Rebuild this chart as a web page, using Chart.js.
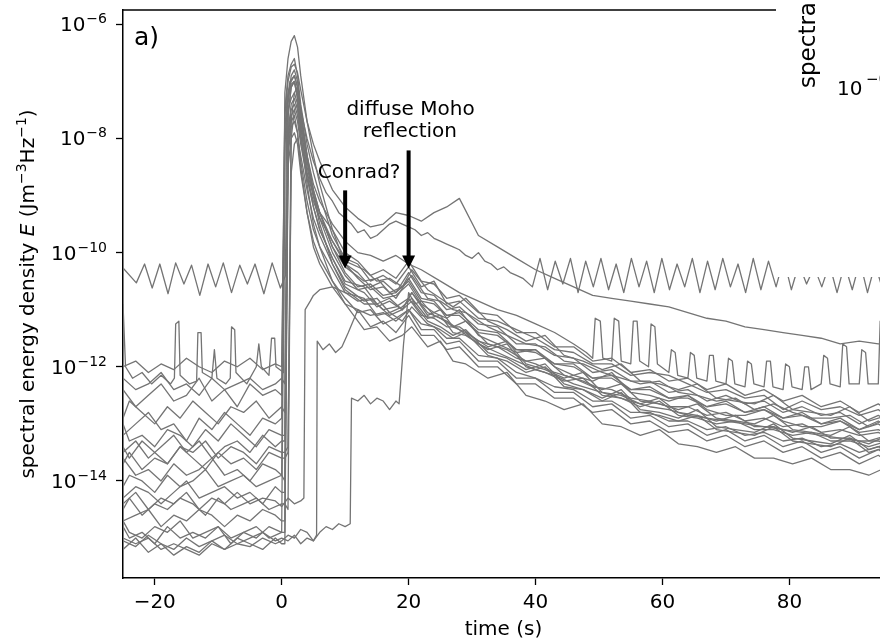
<!DOCTYPE html>
<html>
<head>
<meta charset="UTF-8">
<title>Spectral energy density vs time</title>
<script src="https://cdn.jsdelivr.net/npm/chart.js@4.4.1/dist/chart.umd.min.js"></script>
<style>
  html, body { margin: 0; padding: 0; overflow: hidden; background: #fff; }
  #chartBox { width: 884px; height: 644px; }
</style>
</head>
<body>
<div id="chartBox"><canvas id="energyChart" width="884" height="644"></canvas></div>
<script>
// ---- data: time in s, values are log10 of E (J m^-3 Hz^-1) ----
const timeTicks = [-20, 0, 20, 40, 60, 80];
const yTickExp = [-14, -12, -10, -8, -6];

// two time bases for the stations (samples were read at staggered times)
const time = [-25,-23,-21,-19,-17,-15,-13,-11,-9,-7,-5,-3,-1,0,
  0.5,1,1.5,2,2.5,3,4,5,6,8,10,
  12,14,16,18,20,22,24,26,28,
  31,34,37,40,43,46,49,52,55,58,61,64,67,70,73,76,79,82,85,88,91,94,96];
const timeB = [-25,-24,-22,-20,-18,-16,-14,-12,-10,-8,-6,-4,-2,0,
  0.5,1,1.5,2,2.5,3,4,5,6,8,10,
  13,15,17,19,20.5,23,25,27,29,
  32.5,35.5,38.5,41.5,44.5,47.5,50.5,53.5,56.5,59.5,62.5,65.5,68.5,71.5,74.5,77.5,80.5,83.5,86.5,89.5,92.5,95.5,97];

const logE01 = [-12.4,-12.7,-12.5,-12.3,-12.6,-12.5,-12.2,-12.6,-12.4,-12.7,-12.3,-12.5,-12.4,-12.5,
  -7.5,-6.9,-6.7,-6.6,-6.9,-7.4,-8.1,-8.6,-9.0,-9.7,-10.1,
  -10.2,-10.5,-10.4,-10.55,-10.25,-10.6,-10.5,-10.9,-10.85,-11.15,-11.2,-11.35,-11.5,-11.7,-11.75,-11.95,-11.95,-12.15,-12.1,-12.15,-12.3,-12.45,-12.4,-12.55,-12.5,-12.75,-12.6,-12.75,-12.7,-12.85,-12.75,-12.9];
const logE02 = [-12.9,-12.6,-12.8,-13.0,-12.7,-12.9,-12.6,-12.8,-13.0,-12.7,-12.8,-12.6,-12.9,-12.7,
  -12.8,-7.6,-7.1,-7.0,-7.2,-7.7,-8.4,-8.9,-9.3,-9.9,-10.25,
  -10.5,-10.45,-10.7,-10.6,-10.4,-10.8,-10.85,-11.0,-11.05,-11.3,-11.45,-11.6,-11.65,-11.9,-11.95,-12.1,-12.2,-12.3,-12.25,-12.45,-12.5,-12.6,-12.55,-12.75,-12.65,-12.8,-12.9,-12.9,-12.85,-13.05,-12.9,-13.05];
const logE03 = [-13.2,-13.0,-12.8,-13.1,-13.0,-13.3,-12.9,-13.1,-12.8,-13.0,-13.2,-12.9,-13.0,-12.9,
  -7.8,-7.2,-7.0,-6.9,-7.1,-7.6,-8.4,-9.0,-9.4,-10.0,-10.4,
  -10.65,-10.6,-10.8,-10.75,-10.55,-10.9,-11.05,-11.15,-11.0,-11.45,-11.6,-11.75,-11.7,-12.0,-12.15,-12.25,-12.1,-12.45,-12.5,-12.6,-12.5,-12.75,-12.85,-12.85,-12.75,-12.95,-13.05,-13.05,-12.95,-13.15,-13.1,-13.2];
const logE04 = [-13.0,-13.3,-13.2,-13.4,-13.1,-13.2,-13.4,-13.1,-13.3,-13.0,-13.2,-13.4,-13.1,-13.2,
  -13.2,-7.9,-7.4,-7.3,-7.5,-8.0,-8.7,-9.2,-9.6,-10.1,-10.5,
  -10.6,-10.9,-10.8,-11.0,-10.7,-11.05,-11.15,-11.3,-11.2,-11.6,-11.7,-11.9,-11.85,-12.15,-12.25,-12.4,-12.3,-12.6,-12.65,-12.75,-12.65,-12.9,-12.95,-13.0,-12.85,-13.1,-13.15,-13.2,-13.05,-13.3,-13.2,-13.3];
const logE05 = [-13.5,-13.3,-13.6,-13.4,-13.2,-13.5,-13.3,-13.6,-13.4,-13.3,-13.5,-13.2,-13.4,-13.3,
  -13.3,-8.1,-7.6,-7.5,-7.7,-8.1,-8.7,-9.1,-9.4,-9.8,-10.2,
  -10.35,-10.6,-10.5,-10.7,-10.35,-10.7,-10.75,-11.0,-10.95,-11.25,-11.3,-11.6,-11.6,-11.8,-11.85,-12.1,-12.05,-12.25,-12.25,-12.45,-12.4,-12.6,-12.5,-12.65,-12.6,-12.8,-12.7,-12.85,-12.8,-13.0,-12.85,-13.0];
const logE06 = [-13.7,-13.5,-13.8,-13.6,-13.7,-13.4,-13.6,-13.8,-13.5,-13.7,-13.6,-13.8,-13.5,-13.6,
  -13.6,-13.5,-7.7,-7.2,-7.1,-7.5,-8.3,-9.0,-9.5,-10.2,-10.6,
  -10.85,-10.8,-11.05,-10.95,-10.8,-11.15,-11.1,-11.4,-11.45,-11.7,-11.6,-12.0,-12.1,-12.25,-12.2,-12.5,-12.55,-12.7,-12.6,-12.85,-12.9,-13.0,-12.95,-13.1,-13.1,-13.2,-13.15,-13.3,-13.3,-13.4,-13.3,-13.4];
const logE07 = [-13.6,-13.9,-13.8,-14.0,-13.7,-13.9,-13.8,-13.6,-13.9,-13.8,-14.0,-13.7,-13.8,-13.9,
  -7.2,-6.6,-6.3,-6.2,-6.4,-6.9,-7.7,-8.3,-8.8,-9.6,-10.2,
  -10.45,-10.65,-10.6,-10.8,-10.45,-10.8,-10.85,-11.1,-11.05,-11.35,-11.4,-11.7,-11.7,-11.95,-11.95,-12.2,-12.15,-12.4,-12.35,-12.55,-12.5,-12.7,-12.6,-12.8,-12.7,-12.9,-12.8,-13.0,-12.9,-13.1,-12.95,-13.1];
const logE08 = [-14.1,-13.9,-14.0,-14.2,-13.9,-14.1,-14.0,-13.8,-14.1,-14.0,-13.9,-14.1,-14.0,-13.9,
  -14.0,-8.3,-7.8,-7.7,-7.9,-8.4,-9.1,-9.6,-9.9,-10.3,-10.7,
  -10.8,-11.1,-11.05,-11.2,-10.95,-11.25,-11.35,-11.5,-11.4,-11.8,-11.9,-12.1,-12.0,-12.35,-12.4,-12.6,-12.45,-12.8,-12.85,-12.95,-12.85,-13.1,-13.15,-13.2,-13.05,-13.3,-13.35,-13.4,-13.25,-13.5,-13.4,-13.5];
const logE09 = [-14.3,-14.1,-14.2,-14.4,-14.2,-14.0,-14.3,-14.2,-14.1,-14.3,-14.2,-14.4,-14.1,-14.2,
  -14.2,-7.4,-6.9,-6.8,-7.0,-7.5,-8.3,-8.9,-9.3,-9.9,-10.35,
  -10.6,-10.55,-10.75,-10.7,-10.5,-10.85,-10.9,-11.1,-11.1,-11.4,-11.45,-11.7,-11.75,-11.95,-12.0,-12.2,-12.2,-12.4,-12.4,-12.55,-12.55,-12.7,-12.65,-12.8,-12.75,-12.9,-12.85,-13.0,-12.95,-13.1,-13.0,-13.15];
const logE10 = [-14.5,-14.3,-14.6,-14.4,-14.5,-14.3,-14.4,-14.6,-14.3,-14.5,-14.4,-14.3,-14.5,-14.4,
  -14.4,-14.5,-8.0,-7.5,-7.4,-7.8,-8.6,-9.2,-9.6,-10.1,-10.55,
  -10.7,-10.95,-10.85,-11.0,-10.7,-11.1,-11.0,-11.3,-11.4,-11.65,-11.55,-11.95,-12.05,-12.2,-12.1,-12.45,-12.5,-12.65,-12.55,-12.8,-12.85,-12.95,-12.85,-13.05,-13.05,-13.15,-13.05,-13.25,-13.25,-13.35,-13.2,-13.35];
const logE11 = [-14.7,-14.6,-14.5,-14.8,-14.6,-14.7,-14.5,-14.6,-14.8,-14.6,-14.7,-14.5,-14.6,-14.7,
  -14.7,-8.5,-8.0,-7.9,-8.1,-8.6,-9.3,-9.8,-10.1,-10.5,-10.8,
  -11.05,-11.0,-11.25,-11.15,-11.0,-11.35,-11.35,-11.6,-11.55,-11.9,-11.9,-12.2,-12.2,-12.45,-12.45,-12.7,-12.65,-12.9,-12.85,-13.05,-13.0,-13.2,-13.1,-13.3,-13.2,-13.4,-13.3,-13.5,-13.4,-13.6,-13.45,-13.6];
const logE12 = [-14.8,-15.0,-14.9,-15.1,-14.8,-15.0,-14.9,-15.0,-14.8,-15.1,-14.9,-15.0,-14.8,-14.9,
  -8.1,-7.5,-7.3,-7.2,-7.4,-7.8,-8.5,-9.0,-9.3,-9.8,-10.15,
  -10.3,-10.5,-10.45,-10.6,-10.3,-10.65,-10.8,-10.95,-10.8,-11.2,-11.35,-11.55,-11.45,-11.8,-11.9,-12.05,-11.95,-12.25,-12.3,-12.4,-12.3,-12.55,-12.6,-12.65,-12.5,-12.75,-12.8,-12.85,-12.7,-12.95,-12.85,-12.95];
const logE13 = [-15.0,-15.1,-15.0,-15.2,-15.1,-15.2,-15.3,-15.1,-15.2,-15.0,-15.1,-15.2,-15.0,-15.1,
  -15.1,-8.2,-7.7,-7.6,-7.9,-8.5,-9.3,-9.9,-10.2,-10.6,-10.9,
  -11.0,-11.3,-11.2,-11.4,-11.1,-11.45,-11.45,-11.7,-11.65,-12.0,-12.0,-12.3,-12.3,-12.55,-12.55,-12.8,-12.75,-13.0,-12.95,-13.15,-13.1,-13.3,-13.2,-13.4,-13.3,-13.5,-13.4,-13.6,-13.5,-13.7,-13.55,-13.7];
const logE14 = [-13.4,-13.6,-13.3,-13.5,-13.7,-13.4,-13.5,-13.3,-13.6,-13.4,-13.5,-13.7,-13.4,-13.5,
  -13.5,-13.4,-8.6,-8.1,-8.0,-8.3,-8.9,-9.4,-9.7,-10.2,-10.65,
  -10.9,-10.9,-11.1,-11.0,-10.85,-11.2,-11.3,-11.45,-11.35,-11.75,-11.85,-12.05,-11.95,-12.3,-12.4,-12.55,-12.4,-12.75,-12.8,-12.9,-12.75,-13.05,-13.1,-13.15,-13.0,-13.25,-13.3,-13.35,-13.2,-13.45,-13.35,-13.45];
const logE15 = [-12.2,-12.4,-12.3,-12.1,-12.4,-12.3,-12.5,-12.2,-12.4,-12.3,-12.2,-12.4,-12.3,-12.2,
  -12.3,-8.0,-7.5,-7.4,-7.6,-8.0,-8.6,-9.0,-9.3,-9.6,-10.0,
  -10.15,-10.4,-10.3,-10.45,-10.15,-10.5,-10.55,-10.8,-10.75,-11.05,-11.1,-11.4,-11.4,-11.65,-11.65,-11.9,-11.85,-12.1,-12.05,-12.25,-12.2,-12.4,-12.3,-12.5,-12.4,-12.6,-12.5,-12.7,-12.6,-12.8,-12.65,-12.8];
const logE16 = [-14.7,-14.9,-15.0,-14.8,-14.9,-14.7,-15.0,-14.9,-14.8,-15.0,-14.9,-14.8,-15.0,-14.9,
  -14.9,-7.6,-7.1,-7.0,-7.3,-7.9,-8.8,-9.5,-9.9,-10.5,-10.9,
  -11.35,-11.3,-11.55,-11.45,-11.3,-11.65,-11.55,-11.9,-11.95,-12.2,-12.1,-12.5,-12.6,-12.75,-12.65,-13.0,-13.05,-13.2,-13.1,-13.35,-13.4,-13.5,-13.4,-13.6,-13.6,-13.7,-13.6,-13.8,-13.8,-13.9,-13.75,-13.9];
// station with the long, strong coda (upper trace after the event)
const logEUpper = [-12.0,-11.9,-12.1,-11.95,-12.05,-11.85,-12.0,-12.1,-11.9,-12.0,-11.85,-12.05,-11.95,-12.0,
  -7.6,-7.0,-6.75,-6.7,-6.85,-7.15,-7.7,-8.1,-8.4,-8.9,-9.2,
  -9.4,-9.55,-9.5,-9.3,-9.35,-9.45,-9.3,-9.2,-9.05,-9.7,-9.9,-10.1,-10.3,-10.45,-10.6,-10.75,-10.8,-10.85,-10.9,-10.95,-11.05,-11.15,-11.2,-11.3,-11.35,-11.4,-11.45,-11.5,-11.6,-11.55,-11.6,-11.6];

// station with the oscillating noise floor near 1e-10
const tOsc = [-25,-22.9,-21.6,-20.4,-19.2,-17.9,-16.7,-15.4,-14.2,-12.9,-11.6,-10.4,-9.2,-7.9,-6.6,-5.4,-4.2,-2.8,-1.5,-0.2,0.6,
  0.8,1.3,2,2.5,3,4,5,6,7,8,9,10,11,12,13,14,15,16,17,18,19,20,21,22,23,24,25,26,27,28,29,30,31,32,33,34,35,36,37,38,
  39.5,40.7,41.9,43.1,44.3,45.5,46.7,47.9,49.1,50.3,51.5,52.7,53.9,55.1,56.3,57.5,58.7,59.9,61.1,62.3,63.5,64.7,65.9,67.1,
  68.3,69.5,70.7,71.9,73.1,74.3,75.5,76.7,77.9,79.1,80.3,81.5,82.7,83.9,85.1,86.3,87.5,88.7,89.9,91.1,92.3,93.5,94.7,95.9];
const logOsc = [-10.27,-10.53,-10.2,-10.62,-10.2,-10.72,-10.18,-10.55,-10.22,-10.75,-10.2,-10.6,-10.18,-10.7,-10.22,-10.55,-10.2,-10.72,-10.18,-10.62,-10.4,
  -7.4,-7.0,-6.9,-7.1,-7.5,-8.0,-8.4,-8.7,-8.95,-9.1,-9.3,-9.4,-9.5,-9.65,-9.6,-9.75,-9.7,-9.6,-9.5,-9.45,-9.5,-9.55,-9.6,-9.7,-9.65,-9.75,-9.8,-9.85,-9.9,-9.95,-10.05,-10.1,-10.0,-10.15,-10.2,-10.3,-10.25,-10.35,-10.4,-10.45,
  -10.6,-10.1,-10.65,-10.15,-10.55,-10.1,-10.7,-10.15,-10.6,-10.1,-10.65,-10.2,-10.7,-10.1,-10.6,-10.15,-10.7,-10.1,-10.65,-10.2,-10.6,-10.1,-10.7,-10.15,
  -10.65,-10.1,-10.6,-10.2,-10.7,-10.1,-10.65,-10.15,-10.6,-10.1,-10.65,-10.2,-10.55,-10.25,-10.6,-10.2,-10.7,-10.2,-10.65,-10.15,-10.7,-10.2,-10.65,-10.2];

// station with spiky noise
const tSpiky = [-25,-24.6,-23.5,-22,-20.5,-19,-17.5,-16.9,-16.7,-16.2,-16.0,-14.5,-13.4,-13.2,-12.7,-12.5,-11,-10.6,-10.2,-8.8,-8.1,-7.9,-7.4,-7.2,-5.5,-4.0,-3.6,-3.2,-2.0,-1.6,-1.1,-0.9,0.3,
  0.5,1,1.5,2,2.5,3,4,5,6,8,10,12,14,16,18,20,22,25,28,31,34,37,40,43,46,48,
  49,49.4,50.2,50.6,52,52.4,53.1,53.5,55,55.4,56,56.4,57.8,58.2,58.8,59.2,61,61.4,62,62.4,64,64.4,65,65.4,67,67.4,68,68.4,
  70,70.4,71,71.4,73,73.4,74,74.4,76,76.4,77,77.4,79,79.4,80,80.4,82,82.4,83,83.4,85,85.4,86,86.4,88,88.4,89,89.4,91,91.4,92,92.4,94,94.3,94.8,95.2,96];
const logSpiky = [-10.9,-12.0,-12.2,-12.1,-12.3,-12.15,-12.3,-12.2,-11.25,-11.2,-12.15,-12.3,-12.25,-11.4,-11.4,-12.1,-12.2,-11.7,-12.2,-12.3,-12.2,-11.3,-11.35,-12.1,-12.3,-12.0,-11.6,-12.0,-12.15,-11.5,-11.5,-12.0,-12.1,
  -8.0,-7.3,-7.05,-7.0,-7.3,-7.7,-8.3,-8.8,-9.1,-9.5,-9.8,-10.0,-10.05,-10.15,-10.05,-10.2,-10.3,-10.5,-10.7,-10.85,-11.0,-11.1,-11.25,-11.4,-11.6,-11.75,
  -11.85,-11.15,-11.2,-11.85,-11.9,-11.15,-11.2,-11.9,-11.95,-11.2,-11.2,-11.9,-12.0,-11.25,-11.3,-11.95,-12.1,-11.7,-11.75,-12.15,-12.2,-11.75,-11.8,-12.2,-12.25,-11.8,-11.8,-12.25,
  -12.3,-11.85,-11.9,-12.3,-12.35,-11.9,-11.95,-12.3,-12.35,-11.9,-11.9,-12.35,-12.4,-11.95,-12.0,-12.35,-12.4,-12.0,-12.0,-12.4,-12.3,-11.8,-11.85,-12.3,-12.35,-11.6,-11.65,-12.3,-12.3,-11.7,-11.75,-12.3,-12.3,-11.2,-11.25,-12.2,-12.25];

// stations whose first energy arrives late
const tLate1 = [-25,-23,-21,-19,-17,-15,-13,-11,-9,-7,-5,-3,-1,0,1,2,3,3.5,3.7,4.5,5,6,8,10,
  12,14,16,18,20,22,24,26,28,31,34,37,40,43,46,49,52,55,58,61,64,67,70,73,76,79,82,85,88,91,94,96];
const logLate1 = [-14.4,-14.2,-14.5,-14.3,-14.4,-14.2,-14.5,-14.3,-14.4,-14.2,-14.4,-14.3,-14.35,-14.45,-14.3,-14.4,-14.35,-14.3,-11.0,-10.85,-10.75,-10.65,-10.6,-10.7,
  -10.85,-10.8,-11.0,-10.95,-10.8,-11.1,-11.15,-11.3,-11.3,-11.55,-11.65,-11.85,-11.95,-12.1,-12.2,-12.35,-12.4,-12.55,-12.6,-12.7,-12.7,-12.85,-12.8,-12.95,-12.9,-13.05,-13.0,-13.15,-13.1,-13.2,-13.15,-13.25];
const tLate2 = [-25,-23,-21,-19,-17,-15,-13,-11,-9,-7,-5,-3,-1,0,1,2,3,4,5,5.5,5.6,6.5,7.5,8.5,9.5,10.5,
  12,14,16,18,20,22,24,26,28,31,34,37,40,43,46,49,52,55,58,61,64,67,70,73,76,79,82,85,88,91,94,96];
const logLate2 = [-15.05,-15.15,-14.95,-15.1,-15.2,-15.0,-15.15,-15.05,-14.95,-15.1,-15.0,-14.9,-15.05,-15.0,-15.05,-14.95,-15.1,-15.0,-15.05,-14.95,-11.55,-11.7,-11.6,-11.75,-11.65,-11.4,
  -11.0,-11.1,-11.05,-11.2,-11.0,-11.25,-11.3,-11.5,-11.5,-11.8,-11.85,-12.1,-12.2,-12.35,-12.4,-12.6,-12.6,-12.8,-12.8,-12.95,-12.95,-13.1,-13.05,-13.2,-13.15,-13.3,-13.25,-13.4,-13.35,-13.5,-13.4,-13.5];
const tLate3 = [-25,-23,-21,-19,-17,-15,-13,-11,-9,-7,-5,-3,-1,0,1,2,3,4,5,6,7,8,9,10,10.8,11,12,13,14,15,16,17,18,18.5,19.2,20,21,22,24,26,28,
  31,34,37,40,43,46,49,52,55,58,61,64,67,70,73,76,79,82,85,88,91,94,96];
const logLate3 = [-15.2,-15.0,-15.25,-15.1,-15.3,-15.15,-15.25,-15.05,-15.2,-15.1,-15.15,-15.0,-15.1,-15.05,
  -14.95,-15.0,-14.85,-14.9,-15.05,-14.9,-14.8,-14.85,-14.75,-14.8,-14.75,-12.55,-12.6,-12.5,-12.65,-12.55,-12.6,-12.75,-12.6,-12.65,-11.6,-10.7,-10.9,-10.85,-11.1,-11.2,-11.35,
  -11.6,-11.75,-11.9,-12.05,-12.15,-12.3,-12.4,-12.5,-12.6,-12.7,-12.75,-12.85,-12.9,-12.95,-13.0,-13.05,-13.1,-13.15,-13.2,-13.25,-13.3,-13.3,-13.35];

// annotations (data coordinates: time, log10 E)
const arrows = [{ t: 10, from: -8.91, to: -10.28 }, { t: 20, from: -8.21, to: -10.28 }];
const notes = [
  { text: 'Conrad?', t: 12.2, logE: -8.70 },
  { text: 'diffuse Moho', t: 20.3, logE: -7.59 },
  { text: 'reflection', t: 20.2, logE: -7.98 }
];

// ---- chart ----
const traceGrey = '#747474';
const FONT = '"DejaVu Sans", sans-serif';
Chart.defaults.font.family = FONT;

const stations = [
  [time, logE01], [timeB, logE02], [time, logE03], [timeB, logE04], [time, logE05], [timeB, logE06],
  [time, logE07], [timeB, logE08], [time, logE09], [timeB, logE10], [time, logE11], [timeB, logE12],
  [time, logE13], [timeB, logE14], [time, logE15], [timeB, logE16], [time, logEUpper],
  [tOsc, logOsc], [tSpiky, logSpiky], [tLate1, logLate1], [tLate2, logLate2], [tLate3, logLate3]
];

const datasets = stations.map(([t, v]) => {
  const n = Math.min(t.length, v.length);
  const pts = [];
  for (let i = 0; i < n; i++) pts.push({ x: t[i], y: Math.pow(10, v[i]) });
  return {
    data: pts,
    borderColor: traceGrey,
    borderWidth: 1.3,
    borderJoinStyle: 'round',
    pointRadius: 0,
    fill: false,
    tension: 0
  };
});

// draws the bits matplotlib had: superscript tick labels, axis label, arrows, panel text
const figureExtras = {
  id: 'figureExtras',
  afterDatasetsDraw(chart) {
    // the neighbouring panel (b) sits over the top right corner
    const ctx = chart.ctx;
    ctx.save();
    ctx.fillStyle = '#fff';
    ctx.fillRect(776, 0, chart.width - 776, 277);
    ctx.restore();
  },
  afterDraw(chart) {
    const { ctx, chartArea: a, scales: { x, y } } = chart;
    ctx.save();

    // top spine (cut by the next panel)
    ctx.strokeStyle = '#000';
    ctx.lineWidth = 1.5;
    ctx.beginPath();
    ctx.moveTo(a.left, a.top);
    ctx.lineTo(776, a.top);
    ctx.stroke();

    // y tick labels 10^n
    ctx.fillStyle = '#000';
    ctx.textBaseline = 'alphabetic';
    yTickExp.forEach(n => {
      const py = y.getPixelForValue(Math.pow(10, n));
      const sup = '\u2212' + Math.abs(n);
      ctx.font = '14px ' + FONT;
      const w = ctx.measureText(sup).width;
      ctx.textAlign = 'left';
      ctx.fillText(sup, 107 - w, py - 1);
      ctx.font = '20px ' + FONT;
      ctx.textAlign = 'right';
      ctx.fillText('10', 107 - w - 1, py + 7);
    });

    // y axis title, rotated
    const parts = [
      { s: 'spectral energy density ', f: '20px ' + FONT, r: 0 },
      { s: 'E', f: 'italic 20px ' + FONT, r: 0 },
      { s: ' (Jm', f: '20px ' + FONT, r: 0 },
      { s: '\u22123', f: '14px ' + FONT, r: 8 },
      { s: 'Hz', f: '20px ' + FONT, r: 0 },
      { s: '\u22121', f: '14px ' + FONT, r: 8 },
      { s: ')', f: '20px ' + FONT, r: 0 }
    ];
    let total = 0;
    parts.forEach(p => { ctx.font = p.f; p.w = ctx.measureText(p.s).width; total += p.w; });
    ctx.save();
    ctx.translate(34, (a.top + a.bottom) / 2);
    ctx.rotate(-Math.PI / 2);
    ctx.textAlign = 'left';
    let cx = -total / 2;
    parts.forEach(p => { ctx.font = p.f; ctx.fillText(p.s, cx, -p.r); cx += p.w; });
    ctx.restore();

    // annotation arrows
    ctx.fillStyle = '#000';
    ctx.strokeStyle = '#000';
    arrows.forEach(ar => {
      const px = x.getPixelForValue(ar.t);
      const y0 = y.getPixelForValue(Math.pow(10, ar.from));
      const y1 = y.getPixelForValue(Math.pow(10, ar.to));
      ctx.lineWidth = 4;
      ctx.beginPath();
      ctx.moveTo(px, y0);
      ctx.lineTo(px, y1 - 11);
      ctx.stroke();
      ctx.beginPath();
      ctx.moveTo(px - 6.5, y1 - 13);
      ctx.lineTo(px + 6.5, y1 - 13);
      ctx.lineTo(px, y1);
      ctx.closePath();
      ctx.fill();
    });
    ctx.font = '20px ' + FONT;
    ctx.textAlign = 'center';
    notes.forEach(nt => {
      ctx.fillText(nt.text, x.getPixelForValue(nt.t), y.getPixelForValue(Math.pow(10, nt.logE)));
    });

    // panel letter
    ctx.textAlign = 'left';
    ctx.font = '25px ' + FONT;
    ctx.fillText('a)', 134, 45);

    // edge of the neighbouring panel
    ctx.save();
    ctx.translate(815, 88);
    ctx.rotate(-Math.PI / 2);
    ctx.font = '23px ' + FONT;
    ctx.fillText('spectral energy density', 0, 0);
    ctx.restore();
    ctx.font = '20px ' + FONT;
    ctx.fillText('10', 837, 95);
    ctx.font = '15px ' + FONT;
    ctx.fillText('\u22126', 866, 84);

    ctx.restore();
  }
};

new Chart(document.getElementById('energyChart'), {
  type: 'line',
  data: { datasets: datasets },
  options: {
    responsive: false,
    animation: false,
    layout: { padding: { top: 10, left: 0, right: 0, bottom: 0 } },
    plugins: { legend: { display: false }, tooltip: { enabled: false } },
    scales: {
      x: {
        type: 'linear',
        min: -25,
        max: 94.9,
        afterBuildTicks: s => { s.ticks = timeTicks.map(v => ({ value: v })); },
        afterFit: s => { s.height = 66; },
        ticks: {
          color: '#000',
          font: { size: 20 },
          padding: 6,
          maxRotation: 0,
          autoSkip: false,
          callback: v => (v < 0 ? '\u2212' + Math.abs(v) : String(v))
        },
        grid: { drawOnChartArea: false, drawTicks: true, tickLength: 7, tickWidth: 1.3, tickColor: '#000' },
        border: { display: true, color: '#000', width: 1.5 },
        title: { display: true, text: 'time (s)', color: '#000', font: { size: 20 }, padding: { top: 0, bottom: 2 } }
      },
      y: {
        type: 'logarithmic',
        min: 1.995e-16,
        max: 1.778e-6,
        afterBuildTicks: s => { s.ticks = yTickExp.map(n => ({ value: Math.pow(10, n) })); },
        afterFit: s => { s.width = 123; },
        ticks: { display: false },
        grid: { drawOnChartArea: false, drawTicks: true, tickLength: 7, tickWidth: 1.3, tickColor: '#000' },
        border: { display: true, color: '#000', width: 1.5 }
      }
    }
  },
  plugins: [figureExtras]
});
</script>
</body>
</html>
